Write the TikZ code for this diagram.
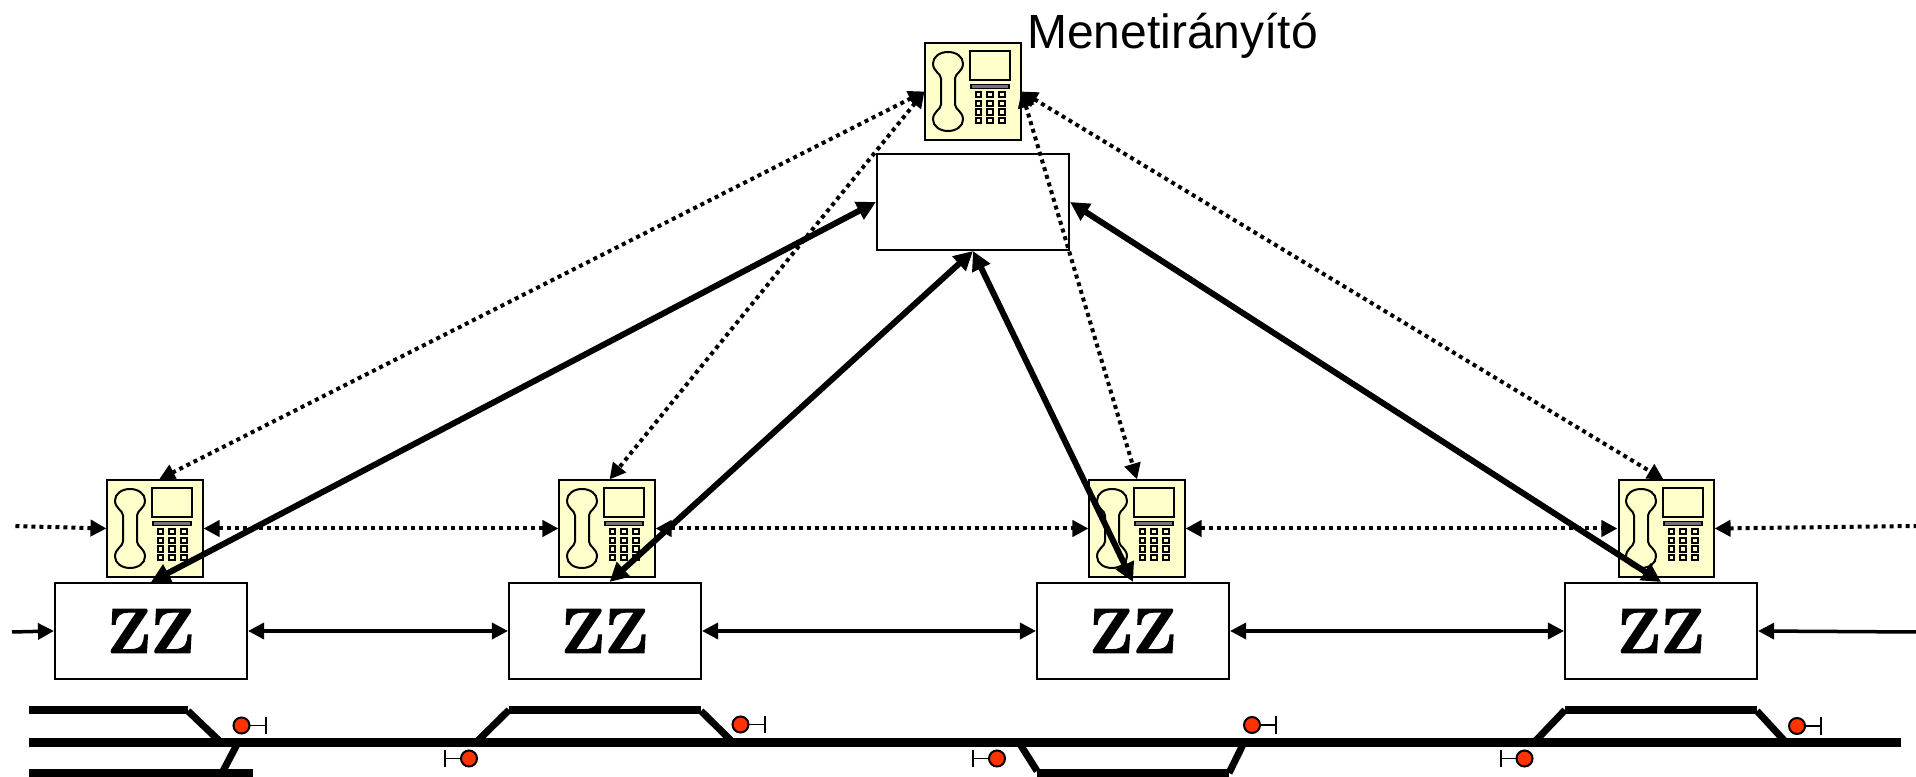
\documentclass[tikz,border=0pt]{standalone}
\usepackage{fontspec}
\newfontfamily\labelfont{Liberation Sans}
\newfontfamily\zzfont[UprightFont=*/B,FakeBold=2.2]{Latin Modern Roman}
\usetikzlibrary{arrows.meta}

\definecolor{phoneyellow}{HTML}{FFFFCC}
\definecolor{signalred}{HTML}{FF3300}

\tikzset{
	box/.style={draw,fill=white,line width=0.02cm,minimum width=1.92cm,minimum height=0.96cm,inner sep=0pt},
	phone/.style={draw,fill=phoneyellow,line width=0.02cm,minimum width=0.95cm,minimum height=0.96cm,inner sep=0pt},
	zz/.style={font=\zzfont\fontsize{18}{20}\selectfont},
	dots/.style={<->,line width=0.04cm,dash pattern=on 0.04cm off 0.04cm,>={Triangle[length=0.16cm,width=0.16cm]}},
	thin link/.style={<->,line width=0.035cm,>={Triangle[length=0.16cm,width=0.16cm]}},
	thick link/.style={<->,line width=0.06cm,>={Triangle[length=0.19cm,width=0.19cm]}},
	track/.style={line width=0.08cm},
	branch/.style={line width=0.07cm},
	lamp/.style={circle,draw,fill=signalred,line width=0.02cm,minimum size=0.16cm,inner sep=0pt},
	phoneicon/.pic={
		\draw[line width=0.02cm] (-32,-13) .. controls (-32,-18) and (-40,-20) .. (-40,-28) .. controls (-40,-35) and (-33,-39.5) .. (-25,-39.5) .. controls (-17,-39.5) and (-10,-35) .. (-10,-28) .. controls (-10,-20) and (-18,-18) .. (-18,-13) -- (-18,13) .. controls (-18,18) and (-10,20) .. (-10,28) .. controls (-10,35) and (-17,39.5) .. (-25,39.5) .. controls (-33,39.5) and (-40,35) .. (-40,28) .. controls (-40,20) and (-32,18) .. (-32,13) -- cycle;
		\draw[line width=0.02cm] (-3,-40) rectangle (37,-11);
		\draw[line width=0.015cm,fill=black!55] (-2,-7) rectangle (36,-3);
		\foreach \kx in {5.5,17,29}
			\foreach \ky in {3,12,20.5,29}
				\draw[line width=0.02cm,fill=phoneyellow] (\kx-2.8,\ky-2.8) rectangle (\kx+2.8,\ky+2.8);
	},
	signalstop/.pic={
		\draw[line width=0.015cm] (0,0) -- (24,0);
		\draw[line width=0.02cm] (24,-8.5) -- (24,8.5);
		\node[lamp] at (0,0) {};
	}
}

\begin{document}
\begin{tikzpicture}[x=0.01cm,y=-0.01cm]
	\useasboundingbox (0,0) rectangle (1916,777);

	\node[phone] (main phone) at (973,91.5) {};
	\pic at (main phone) {phoneicon};
	\node[box] (center) at (973,202) {};
	\node[anchor=base west,inner sep=0pt,font=\labelfont\fontsize{13.65}{15}\selectfont] (dispatcher) at (1026.5,48.5) {Menetirányító};

	\node[phone] (phone a) at (155,528.5) {};
	\node[phone] (phone b) at (607,528.5) {};
	\node[phone] (phone c) at (1137,528.5) {};
	\node[phone] (phone d) at (1666,528.5) {};
	\pic at (phone a) {phoneicon};
	\pic at (phone b) {phoneicon};
	\pic at (phone c) {phoneicon};
	\pic at (phone d) {phoneicon};

	\node[box,zz] (zz a) at (151,631) {ZZ};
	\node[box,zz] (zz b) at (605,631) {ZZ};
	\node[box,zz] (zz c) at (1133,631) {ZZ};
	\node[box,zz] (zz d) at (1661,631) {ZZ};

	\coordinate (phone left) at (12,526);
	\coordinate (phone right) at (1916,526);
	\coordinate (zz left) at (12,632);
	\coordinate (zz right) at (1916,632);

	\draw[dots,<-] (phone a.west) -- (phone left);
	\draw[dots] (phone a.east) -- (phone b.west);
	\draw[dots] (phone b.east) -- (phone c.west);
	\draw[dots] (phone c.east) -- (phone d.west);
	\draw[dots,<-] (phone d.east) -- (phone right);

	\draw[dots] (main phone.west) -- ([xshift=0.04cm]phone a.north);
	\draw[dots] (main phone.west) -- ([xshift=0.025cm]phone b.north);
	\draw[dots] (main phone.east) -- (phone c.north);
	\draw[dots] (main phone.east) -- ([xshift=-0.025cm]phone d.north);

	\draw[thin link,<-] (zz a.west) -- (zz left);
	\draw[thin link] (zz a.east) -- (zz b.west);
	\draw[thin link] (zz b.east) -- (zz c.west);
	\draw[thin link] (zz c.east) -- (zz d.west);
	\draw[thin link,<-] (zz d.east) -- (zz right);

	\draw[thick link] (center.west) -- (zz a.north);
	\draw[thick link] (center.south) -- ([xshift=0.045cm]zz b.north);
	\draw[thick link] (center.south) -- (zz c.north);
	\draw[thick link] (center.east) -- (zz d.north);

	\draw[track] (29,742.5) -- (1901,742.5);
	\draw[track] (29,710) -- (188,710);
	\draw[branch] (188,711) -- (221,742.5);
	\draw[track] (29,773) -- (253,773);
	\draw[branch] (238,742.5) -- (222,773);
	\draw[branch] (476,742.5) -- (509,710);
	\draw[track] (509,710) -- (701,710);
	\draw[branch] (701,711) -- (733,742.5);
	\draw[branch] (1019,742.5) -- (1037,771);
	\draw[track] (1037,773) -- (1229,773);
	\draw[branch] (1229,773) -- (1244,742.5);
	\draw[branch] (1534,742.5) -- (1565,710);
	\draw[track] (1565,710) -- (1757,710);
	\draw[branch] (1757,711) -- (1786,742.5);

	\pic at (241.5,725.5) {signalstop};
	\pic at (740.5,724.5) {signalstop};
	\pic at (1252,725) {signalstop};
	\pic at (1797,726) {signalstop};
	\pic[xscale=-1] at (469,758.5) {signalstop};
	\pic[xscale=-1] at (997,758.5) {signalstop};
	\pic[xscale=-1] at (1524.5,758.5) {signalstop};
\end{tikzpicture}
\end{document}
